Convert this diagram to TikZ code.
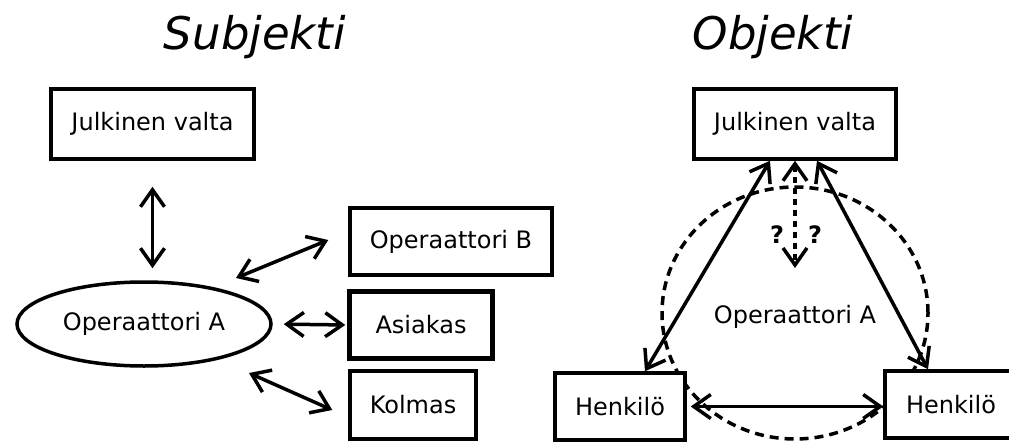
\documentclass[tikz,border=0pt]{standalone}
\usepackage{fontspec}
\setmainfont{DejaVu Sans}
\usetikzlibrary{arrows.meta,calc,shapes.geometric}
\tikzset{
  lbl/.style={font=\fontsize{24}{28}\selectfont, inner sep=0pt},
  box/.style={lbl, draw, line width=3.5pt, fill=white},
  ttl/.style={font=\fontsize{45}{54}\selectfont\itshape, inner sep=0pt, anchor=base},
  qmark/.style={font=\fontsize{24}{28}\selectfont\bfseries, inner sep=0pt},
  barb/.tip={Straight Barb[length=17pt,width=24pt]},
  arr/.style={line width=3.5pt, barb-barb},
  dashring/.style={draw, ellipse, line width=3.5pt, dash pattern=on 9pt off 6pt, inner sep=0pt},
  dasharr/.style={arr, dash pattern=on 6pt off 5pt}
}
\begin{document}
\begin{tikzpicture}[x=1pt,y=-1pt]
\useasboundingbox (0,0) rectangle (1009,444);
% titles
\node[ttl] (tS) at (255,50) {Subjekti};
\node[ttl] (tO) at (773,50) {Objekti};
% left part
\node[box, minimum width=203pt, minimum height=70pt] (jvL) at (152.5,124) {Julkinen valta};
\node[lbl, draw, ellipse, line width=3.5pt, minimum width=254pt, minimum height=84pt] (ell) at (144,324) {Operaattori A};
\node[box, minimum width=202pt, minimum height=67pt] (opB) at (451,241.5) {Operaattori B};
\node[box, line width=4.5pt, minimum width=143pt, minimum height=67pt] (asi) at (421,325) {Asiakas};
\node[box, minimum width=126pt, minimum height=68pt] (kol) at (413,405) {Kolmas};
\draw[arr, shorten <=26pt, shorten >=12pt] (jvL.south) -- (jvL.south |- ell.north);
\draw[arr] ($(ell.center)+(92,-46)$) -- ($(opB.west)+(-20,-1.5)$);
\draw[arr, shorten <=11pt, shorten >=2pt] (ell.east) -- (asi.west);
\draw[arr] ($(ell.center)+(105,49)$) -- ($(kol.west)+(-16,5)$);
% right part
\node[dashring, minimum width=266pt, minimum height=252pt] (ring) at (795,313) {};
\node[box, minimum width=202pt, minimum height=70pt] (jvR) at (795,124) {Julkinen valta};
\node[box, minimum width=130pt, minimum height=67pt] (hL) at (620,406.5) {Henkilö};
\node[box, minimum width=132pt, minimum height=67pt] (hR) at (951,404.5) {Henkilö};
\node[lbl, anchor=base] (opA) at (795,323) {Operaattori A};
\node[qmark] (q1) at (777,235) {?};
\node[qmark] (q2) at (815,235) {?};
\coordinate (qend) at (795,268);
\draw[arr] ($(jvR.south)+(-25,0)$) -- ($(hL.north)+(25,0)$);
\draw[arr] ($(jvR.south)+(22,0)$) -- ($(hR.north)+(-23,0)$);
\draw[dasharr] (jvR.south) -- (qend);
\draw[arr, shorten <=4pt] (hL.east) -- (hL.east -| hR.west);
\end{tikzpicture}
\end{document}
